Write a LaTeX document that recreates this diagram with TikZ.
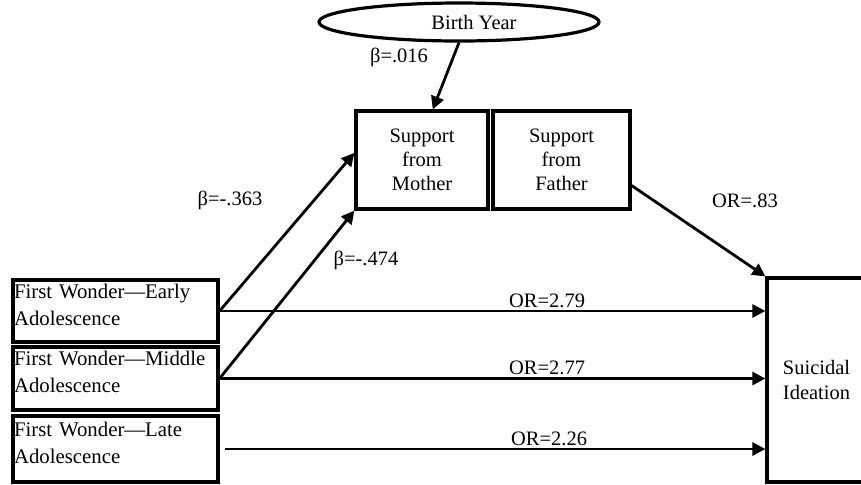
\documentclass[tikz,border=0pt]{standalone}
\usepackage{fontspec}
\setmainfont{Liberation Serif}
\usetikzlibrary{arrows.meta,shapes.geometric}

\begin{document}
\begin{tikzpicture}
		[x=0.5pt, y=-0.5pt,
		 font=\fontsize{10.25}{12}\selectfont,
		 box/.style={draw, line width=1.6pt, inner sep=0pt, align=center},
		 agebox/.style={draw, line width=1.6pt, inner xsep=0.5pt, inner ysep=0pt,
		   text width=101.5pt, align=left, text depth=20pt, font=\fontsize{10.4}{13.5}\selectfont},
		 arr/.style={line width=1.4pt, -{Triangle[length=6.5pt,width=6.5pt]}},
		 lab/.style={inner sep=0pt}]
			\useasboundingbox (0,0) rectangle (861,484);
			% top: covariate and mediators
			\node [draw, ellipse, line width=1.6pt, inner sep=0pt,
			       minimum width=140pt, minimum height=19pt] (birth) at (459,22) {\hspace*{15pt}Birth Year};
			\node [box, minimum width=66pt, minimum height=49pt] (mother) at (422,160) {Support\\from\\Mother};
			\node [box, minimum width=68.5pt, minimum height=49pt] (father) at (561.5,160) {Support\\from\\Father};
			% left: age of first wonder
			\node [agebox, minimum height=31pt] (early) at (115.5,311) {First Wonder---Early\\Adolescence};
			\node [agebox, minimum height=31.5pt] (middle) at (115.5,378.5) {First Wonder---Middle\\Adolescence};
			\node [agebox, minimum height=33pt] (late) at (115.5,449) {First Wonder---Late\\Adolescence};
			% outcome
			\node [box, minimum width=49.5pt, minimum height=102pt, font=\fontsize{10.25}{12.5}\selectfont] (ideation) at (816.5,380) {Suicidal\\Ideation};

			\draw [arr] (birth.south) -- (mother.78);
			\draw [arr] (early.east) -- (mother.174);
			\draw [arr] (middle.east) -- (mother.south west);
			\draw [arr] (father.-20) -- (ideation.north west);
			\draw [arr] (early.east) -- (early.east -| ideation.west)
				node [pos=.6, above, inner sep=1pt] (or1) {OR=2.79};
			\draw [arr] (middle.east) -- (middle.east -| ideation.west)
				node [pos=.6, above, inner sep=1pt] (or2) {OR=2.77};
			\draw [arr] ([xshift=2.5pt]late.east) -- (late.east -| ideation.west)
				node [pos=.6, above, inner sep=1pt] (or3) {OR=2.26};

			\node [lab] (b1) at (399,57) {β=.016};
			\node [lab] (b2) at (230,200) {β=-.363};
			\node [lab] (b3) at (366,260) {β=-.474};
			\node [lab] (or4) at (745,201) {OR=.83};
	\end{tikzpicture}
\end{document}
